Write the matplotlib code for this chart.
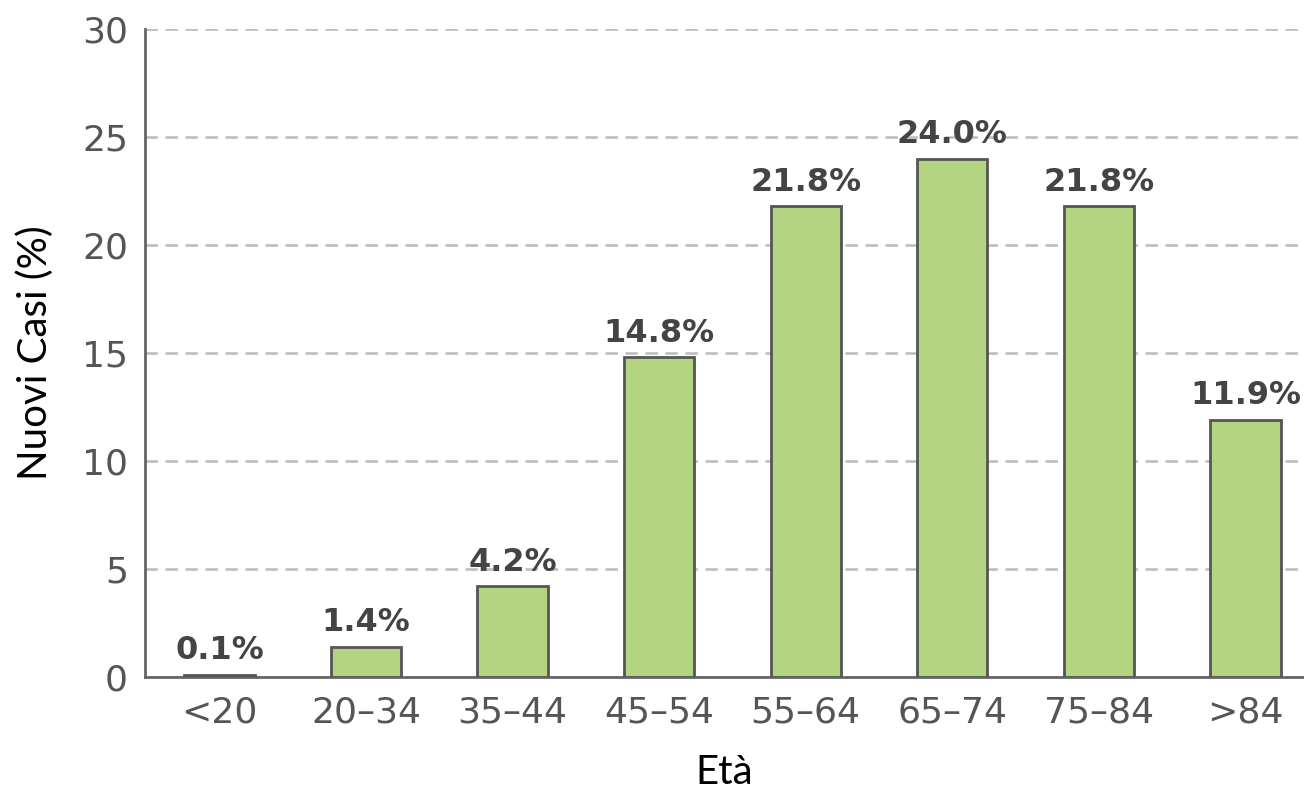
import matplotlib.pyplot as plt

age_groups = ['<20', '20–34', '35–44', '45–54', '55–64', '65–74', '75–84', '>84']
new_cases_pct = [0.1, 1.4, 4.2, 14.8, 21.8, 24.0, 21.8, 11.9]
y_ticks = [0, 5, 10, 15, 20, 25, 30]

fig = plt.figure(figsize=(13.04, 7.89), dpi=100)
ax = fig.add_axes([0.111, 0.142, 0.889, 0.821])

x = list(range(len(age_groups)))
ax.bar(x, new_cases_pct, width=0.48, color='#b3d480', edgecolor='#555555',
       linewidth=2, zorder=3)

for xi, v in zip(x, new_cases_pct):
    ax.text(xi, v + 0.4, f'{v:.1f}%', ha='center', va='bottom',
            fontsize=23, fontweight='bold', color='#444444', zorder=4)

ax.set_xlim(-0.51, 7.40)
ax.set_ylim(0, 30)
ax.set_yticks(y_ticks)
ax.set_xticks(x)
ax.set_xticklabels(age_groups)
ax.tick_params(axis='both', length=0, labelsize=26, labelcolor='#555555')
ax.tick_params(axis='x', pad=13)
ax.tick_params(axis='y', pad=12)

ax.yaxis.grid(True, linestyle=(0, (5, 3)), color='#bbbbbb', linewidth=1.8, zorder=0)
ax.set_axisbelow(True)
for s in ['top', 'right']:
    ax.spines[s].set_visible(False)
for s in ['left', 'bottom']:
    ax.spines[s].set_color('#666666')
    ax.spines[s].set_linewidth(2)

ax.set_xlabel('Età', fontsize=29, family='Lato', labelpad=18)
ax.set_ylabel('Nuovi Casi (%)', fontsize=29, family='Lato', labelpad=20)

fig.savefig('out.png', dpi=100)
